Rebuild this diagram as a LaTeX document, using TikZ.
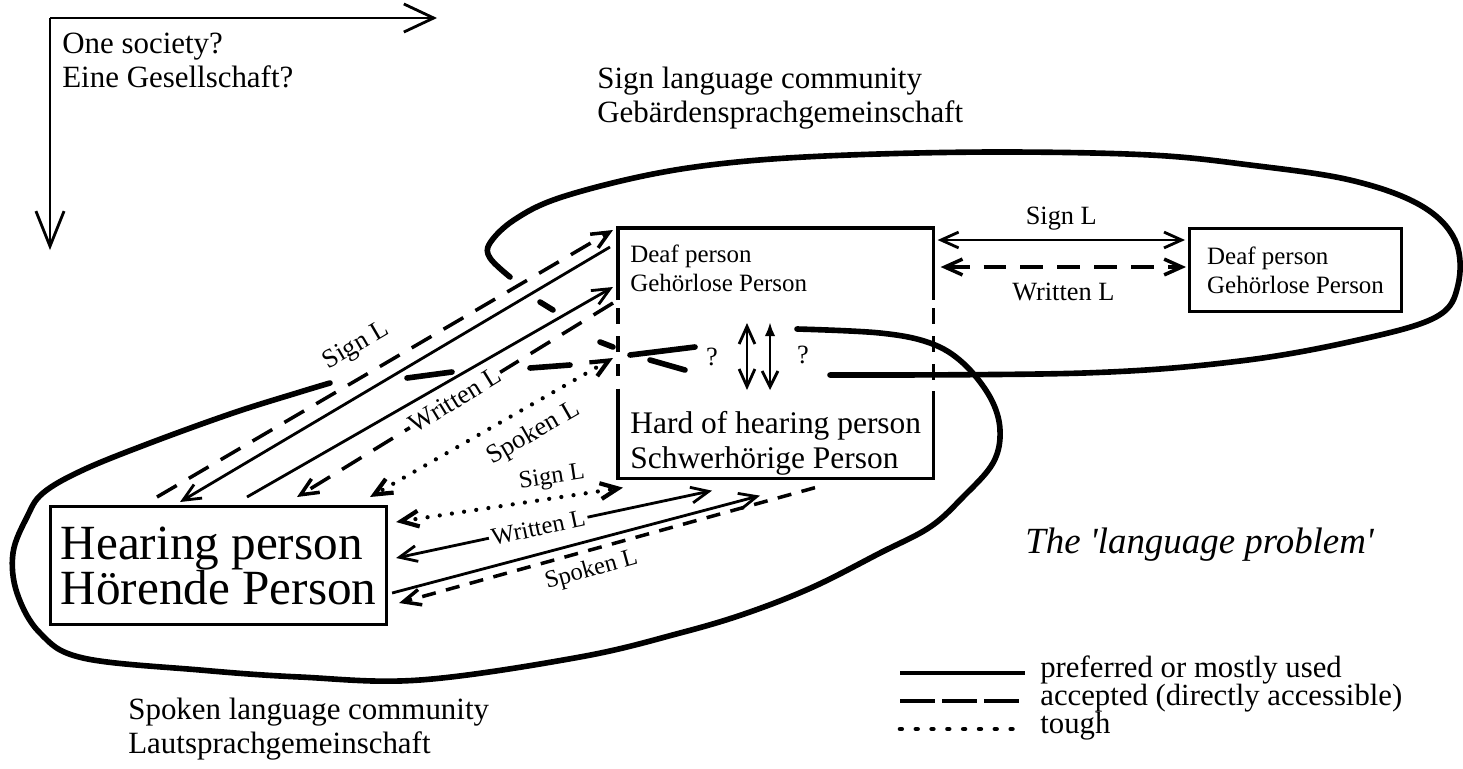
\documentclass[tikz,border=0pt]{standalone}
\usepackage{fontspec}
\setmainfont{Liberation Serif}
\newfontfamily\dgProbFam{Liberation Serif}
\usetikzlibrary{arrows.meta,calc}
\newcommand\dgCap{\fontsize{17.6}{19}\selectfont}
\newcommand\dgDeaf{\fontsize{14.2}{16.5}\selectfont}
\newcommand\dgHoh{\fontsize{17.9}{20}\selectfont}
\newcommand\dgHear{\fontsize{28}{25.6}\selectfont}
\newcommand\dgLbl{\fontsize{15}{17}\selectfont}
\newcommand\dgLblS{\fontsize{14}{16}\selectfont}
\newcommand\dgLeg{\fontsize{17.5}{18}\selectfont}
\newcommand\dgQ{\fontsize{15}{17}\selectfont}
\newcommand\dgProb{\dgProbFam\itshape\fontsize{21}{23}\selectfont}
\begin{document}
\begin{tikzpicture}[x=0.02cm,y=-0.02cm,
  every node/.style={inner sep=0pt},
  box/.style={draw, line width=1.8pt},
  boxline/.style={line width=1.8pt, line join=miter},
  boxdash/.style={line width=1.8pt, dash pattern=on 9pt off 7pt},
  solidline/.style={line width=1.6pt},
  dashline/.style={line width=2pt, dash pattern=on 13pt off 8pt},
  dashshort/.style={line width=2pt, dash pattern=on 8pt off 6pt},
  dotline/.style={line width=2.4pt, line cap=round, dash pattern=on 0pt off 7pt},
  commline/.style={line width=3.2pt, line cap=round, line join=round},
  >={Straight Barb[length=10pt,width=9pt]},
  lbl/.style={font=\dgLbl},
  lbls/.style={font=\dgLblS},
]
\useasboundingbox (0,0) rectangle (1463,768);

% top-left axes
\coordinate (corner) at (50,18);
\coordinate (hend) at (437,18);
\coordinate (vend) at (50,250);
\draw[solidline, -{Straight Barb[length=17pt,width=16pt]}] (corner) -- (hend);
\draw[solidline, -{Straight Barb[length=20pt,width=16pt]}] (corner) -- (vend);

% captions
\node[font=\dgCap, align=left, anchor=north west] (soc) at (62,33) {One society?\\Eine Gesellschaft?};
\node[font=\dgCap, align=left, anchor=north west] (slc) at (597,67) {Sign language community\\Gebärdensprachgemeinschaft};
\node[font=\dgCap, align=left, anchor=north west] (spc) at (128,698) {Spoken language community\\Lautsprachgemeinschaft};
\node[font=\dgProb, anchor=base west] (prob) at (1025,553) {The 'language problem'};

% boxes
\node[box, font=\dgHear, align=left, minimum width=6.72cm, minimum height=2.36cm, anchor=north west] (hear) at (49,505) {Hearing person\\Hörende Person};
\node[minimum width=6.3cm, minimum height=5cm, anchor=north west] (dh) at (618,228) {};
\draw[boxline] ($(dh.north west)+(0,72)$) -- (dh.north west) -- (dh.north east) -- ($(dh.north east)+(0,72)$);
\draw[boxline] ($(dh.south west)+(0,-90)$) -- (dh.south west) -- (dh.south east) -- ($(dh.south east)+(0,-88)$);
\draw[boxdash] ($(dh.north west)+(0,80)$) -- ($(dh.north west)+(0,148)$);
\draw[boxdash] ($(dh.north east)+(0,80)$) -- ($(dh.north east)+(0,152)$);
\node[font=\dgDeaf, align=left, anchor=north west] (deafA) at (630,245) {Deaf person\\Gehörlose Person};
\node[font=\dgHoh, align=left, anchor=north west] (hoh) at (630,411) {Hard of hearing person\\Schwerhörige Person};
\node[box, font=\dgDeaf, align=left, minimum width=4.24cm, minimum height=1.66cm, anchor=north west] (deafB) at (1188,227) {Deaf person\\Gehörlose Person};

% deaf <-> deaf
\draw[solidline,<->] ($(dh.north east)+(4,12)$) -- ($(deafB.north west)+(-3,13)$) node[midway, above=5pt, lbl] {Sign L};
\draw[dashline,<->] ($(dh.north east)+(7,39)$) -- ($(deafB.north west)+(-2,40)$) node[midway, below=8pt, lbl] {Written L};

% hearing <-> deaf
\draw[dashline,->] ($(hear.north west)+(108,-8)$) -- ($(dh.north west)+(-5,2)$) node[pos=0.47, sloped, above=9pt, lbl] {Sign L};
\draw[solidline,->] ($(dh.north west)+(-8,19)$) -- ($(hear.north west)+(131,-3)$);
\draw[solidline,->] ($(hear.north west)+(198,-8)$) -- ($(dh.north west)+(-5,59)$);
\draw[dashline,->] ($(dh.north west)+(-5,75)$) -- ($(hear.north west)+(248,-8)$) node[pos=0.5, sloped, fill=white, inner sep=1pt, lbl] {Written L};
\draw[dotline,<->] ($(dh.north west)+(-5,130)$) -- ($(hear.north west)+(321,-8)$) node[pos=0.38, sloped, below=7pt, lbl] {Spoken L};

% hearing <-> hard of hearing
\draw[dotline,<->] ($(hear.north east)+(8,17)$) -- ($(dh.south west)+(5,9)$) node[pos=0.7, sloped, above=4pt, lbls] {Sign L};
\draw[solidline,<->] ($(hear.north east)+(8,53)$) -- ($(dh.south west)+(94,12)$) node[pos=0.45, sloped, fill=white, inner sep=1.5pt, lbls] {Written L};
\draw[solidline,->] ($(hear.north east)+(4,88)$) -- ($(dh.south west)+(142,17)$);
\draw[dashshort,->] ($(dh.south west)+(197,9)$) -- ($(hear.north east)+(11,98)$) node[pos=0.55, sloped, below=4pt, lbls] {Spoken L};

% deaf <-> hard of hearing
\node[font=\dgQ] (q1) at (712,357) {?};
\node[font=\dgQ] (q2) at (803,355) {?};
\draw[solidline,<->] ($(dh.north west)+(129,95)$) -- ($(dh.north west)+(129,162)$);
\draw[solidline,{Latex[length=8pt,width=6pt]}-{Straight Barb[length=9pt,width=9pt]}] ($(dh.north west)+(152,94)$) -- ($(dh.north west)+(152,162)$);

% sign language community outline
\draw[commline] plot[smooth, tension=0.6] coordinates {(830,375) (1084,373) (1240,361) (1358,340) (1436,317) (1458,285) (1455,240) (1420,205) (1350,180) (1250,165) (1150,155) (1000,152) (849,155) (737,162) (648,175) (559,198) (514,220) (490,243) (490,258) (510,277)};
\draw[commline] (540,302) -- (553,310);
\draw[commline] (600,342) -- (613,347);
\draw[commline] (650,360) -- (685,370);

% spoken language community outline
\draw[commline] plot[smooth, tension=0.6] coordinates {(797,329) (880,333) (930,343) (963,363) (990,397) (1000,430) (993,463) (963,497) (930,527) (880,553) (813,587) (747,613) (680,633) (580,657) (420,680) (300,677) (200,670) (83,658) (40,633) (17,593) (13,553) (27,517) (43,493) (83,470) (150,443) (233,413) (300,392) (330,383)};
\draw[commline] (407,378) -- (452,372);
\draw[commline] (530,368) -- (570,365);
\draw[commline] (630,355) -- (695,347);

% legend
\node[font=\dgLeg, anchor=mid west] (leg1) at (1040,673) {preferred or mostly used};
\node[font=\dgLeg, anchor=mid west] (leg2) at (1040,701) {accepted (directly accessible)};
\node[font=\dgLeg, anchor=mid west] (leg3) at (1040,729) {tough};
\draw[line width=2.6pt] ($(leg1.mid west)+(-140,0)$) -- ($(leg1.mid west)+(-15,0)$);
\draw[line width=2.6pt, dash pattern=on 20pt off 4pt] ($(leg2.mid west)+(-140,0)$) -- ($(leg2.mid west)+(-15,0)$);
\draw[line width=2.6pt, line cap=round, dash pattern=on 1pt off 8pt] ($(leg3.mid west)+(-140,0)$) -- ($(leg3.mid west)+(-15,0)$);
\end{tikzpicture}
\end{document}
